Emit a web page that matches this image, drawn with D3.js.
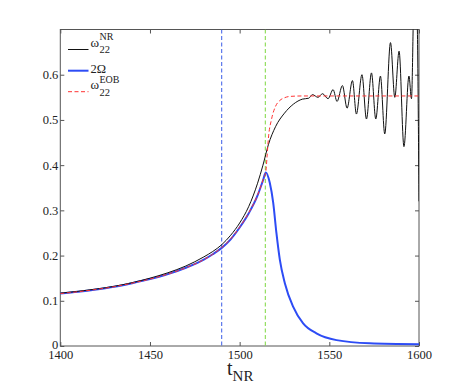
<!DOCTYPE html>
<html>
<head>
<meta charset="utf-8">
<script src="https://cdn.jsdelivr.net/npm/d3@7"></script>
<style>
  html, body { margin: 0; padding: 0; background: #fff; }
  svg { display: block; }
</style>
</head>
<body>
<svg id="chart" width="463" height="390"></svg>
<script>
// ---- data ----
const xTicks = [1400, 1450, 1500, 1550, 1600];
const yTicks = [0, 0.1, 0.2, 0.3, 0.4, 0.5, 0.6];

const nrT = [1400, 1410, 1420, 1430, 1440, 1450, 1460, 1470, 1480, 1485, 1490, 1495, 1500, 1505, 1510, 1513, 1516, 1520, 1525, 1530, 1535, 1538.5,
  1540.6, 1543.7, 1546.2, 1549.3, 1552.1, 1554.3, 1557.3, 1559.9, 1562.9, 1565.1, 1568.2, 1570.7, 1573.5, 1575.9, 1578.5, 1580.9, 1584.1, 1586.5, 1588.9, 1591.6, 1594.4, 1595.8, 1597.4, 1598.8, 1600];
const nrV = [0.117, 0.121, 0.126, 0.132, 0.140, 0.150, 0.162, 0.177, 0.197, 0.209, 0.224, 0.245, 0.272, 0.308, 0.360, 0.400, 0.445, 0.485, 0.515, 0.535, 0.546, 0.548,
  0.556, 0.550, 0.558, 0.547, 0.567, 0.541, 0.576, 0.526, 0.587, 0.513, 0.600, 0.502, 0.604, 0.502, 0.597, 0.469, 0.671, 0.550, 0.652, 0.441, 0.597, 0.547, 0.80, 0.75, 0.32];

const omT = [1400, 1410, 1420, 1430, 1440, 1450, 1460, 1470, 1480, 1485, 1490, 1495, 1500, 1505, 1510, 1513, 1514.6, 1516.8, 1518.7, 1520.5, 1522.4, 1525.2, 1529.8, 1535.4, 1542.8, 1554, 1572.5, 1600];
const omV = [0.116, 0.120, 0.125, 0.131, 0.139, 0.148, 0.159, 0.173, 0.191, 0.203, 0.217, 0.236, 0.262, 0.293, 0.333, 0.366, 0.384, 0.361, 0.317, 0.250, 0.191, 0.139, 0.087, 0.050, 0.028, 0.013, 0.006, 0.004];

const eobT = [1400, 1410, 1420, 1430, 1440, 1450, 1460, 1470, 1480, 1485, 1490, 1495, 1500, 1505, 1510, 1513, 1514.6, 1515.3, 1516, 1517.8, 1520, 1522.4, 1525, 1528, 1535, 1600];
const eobV = [0.116, 0.120, 0.125, 0.131, 0.139, 0.148, 0.159, 0.173, 0.191, 0.203, 0.218, 0.237, 0.263, 0.294, 0.334, 0.367, 0.386, 0.420, 0.458, 0.502, 0.530, 0.543, 0.549, 0.552, 0.553, 0.553];

const vLines = [1490, 1514.3];
const vLineColors = ["#3a5ce8", "#7ed840"];

// ---- layout ----
const FONT = "'Liberation Serif', 'Times New Roman', Times, 'DejaVu Serif', serif";
const svg = d3.select("#chart");
const L = 60.3, R = 419, T = 29.5, B = 346;
const x = d3.scaleLinear().domain([1400, 1600]).range([L, R]);
const y = d3.scaleLinear().domain([0, 0.7]).range([B, T]);

svg.append("defs").append("clipPath").attr("id", "clip")
  .append("rect").attr("x", L).attr("y", T).attr("width", R - L).attr("height", B - T);

const frameColor = "#555";

// axes with inward ticks
const gB = svg.append("g").attr("transform", `translate(0,${B})`)
  .call(d3.axisBottom(x).tickValues(xTicks).tickSize(-4).tickPadding(4).tickFormat(d3.format("d")));
const gT = svg.append("g").attr("transform", `translate(0,${T})`)
  .call(d3.axisTop(x).tickValues(xTicks).tickSize(-4).tickFormat(""));
const gL = svg.append("g").attr("transform", `translate(${L},0)`)
  .call(d3.axisLeft(y).tickValues(yTicks).tickSize(-4).tickPadding(2).tickFormat(d => d === 0 ? "0" : d3.format(".1f")(d)));
const gR = svg.append("g").attr("transform", `translate(${R},0)`)
  .call(d3.axisRight(y).tickValues(yTicks).tickSize(-4).tickFormat(""));

[gB, gT, gL, gR].forEach(g => {
  g.attr("font-family", FONT).attr("font-size", 12.5);
  g.select(".domain").remove();
  g.selectAll(".tick line").attr("stroke", frameColor);
  g.selectAll("text").attr("fill", "#222");
});
gL.selectAll(".tick").filter(d => d === 0).select("text").attr("dy", "0.2em");

svg.append("rect").attr("x", L).attr("y", T).attr("width", R - L).attr("height", B - T)
  .attr("fill", "none").attr("stroke", frameColor).attr("stroke-width", 1);

const plot = svg.append("g").attr("clip-path", "url(#clip)");

// vertical dashed lines
vLines.forEach((v, i) => {
  plot.append("line").attr("x1", x(v)).attr("x2", x(v)).attr("y1", T).attr("y2", B)
    .attr("stroke", vLineColors[i]).attr("stroke-width", 1).attr("stroke-dasharray", "4,2.5");
});

const line = d3.line().x(d => x(d[0])).y(d => y(d[1])).curve(d3.curveMonotoneX);

const nr = nrT.map((t, i) => [t, nrV[i]]);
const om = omT.map((t, i) => [t, omV[i]]);
const eob = eobT.map((t, i) => [t, eobV[i]]);

plot.append("path").datum(om).attr("d", line).attr("fill", "none")
  .attr("stroke", "#2d4cf5").attr("stroke-width", 2);
plot.append("path").datum(nr).attr("d", line).attr("fill", "none")
  .attr("stroke", "#111").attr("stroke-width", 1);
plot.append("path").datum(eob).attr("d", line).attr("fill", "none")
  .attr("stroke", "#ff3333").attr("stroke-width", 1).attr("stroke-dasharray", "4,2.5");

// legend
const lg = svg.append("g").attr("font-family", FONT).attr("fill", "#222");
const items = [
  { y: 49.5, color: "#111", w: 1, dash: null, base: "ω", sup: "NR", sub: "22" },
  { y: 70.7, color: "#2d4cf5", w: 2, dash: null, base: "2Ω" },
  { y: 91.7, color: "#ff3333", w: 1, dash: "4,2.5", base: "ω", sup: "EOB", sub: "22" }
];
items.forEach(it => {
  lg.append("line").attr("x1", 68).attr("x2", 88.5).attr("y1", it.y).attr("y2", it.y)
    .attr("stroke", it.color).attr("stroke-width", it.w).attr("stroke-dasharray", it.dash);
  if (it.sup) {
    lg.append("text").attr("x", 90.5).attr("y", it.y - 3).attr("font-size", 13).text(it.base);
    lg.append("text").attr("x", 99.5).attr("y", it.y - 9.2).attr("font-size", 10).text(it.sup);
    lg.append("text").attr("x", 99.5).attr("y", it.y + 3.8).attr("font-size", 10.5).text(it.sub);
  } else {
    lg.append("text").attr("x", 90.5).attr("y", it.y + 2.5).attr("font-size", 12.5).text(it.base);
  }
});

// x label
const xl = svg.append("text").attr("x", 227).attr("y", 375)
  .attr("font-family", FONT).attr("fill", "#222");
xl.append("tspan").attr("font-size", 20).text("t");
xl.append("tspan").attr("dy", 6).attr("font-size", 15).text("NR");
</script>
</body>
</html>
